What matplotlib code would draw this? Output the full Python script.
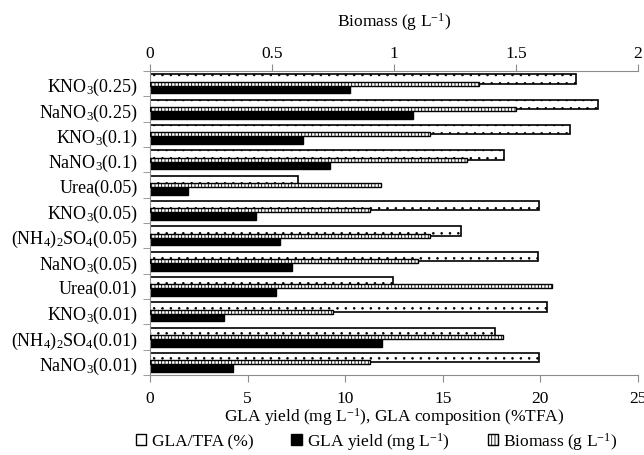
import numpy as np
import matplotlib
matplotlib.use('Agg')
import matplotlib.pyplot as plt
from matplotlib.patches import Patch

plt.rcParams['font.family'] = ['Liberation Serif', 'DejaVu Serif']
plt.rcParams['mathtext.fontset'] = 'custom'
plt.rcParams['mathtext.rm'] = 'Liberation Serif'
plt.rcParams['mathtext.it'] = 'Liberation Serif:italic'
plt.rcParams['hatch.linewidth'] = 0.6

# categories (top to bottom)
categories = ['KNO$_3$(0.25)', 'NaNO$_3$(0.25)', 'KNO$_3$(0.1)', 'NaNO$_3$(0.1)',
              'Urea(0.05)', 'KNO$_3$(0.05)', '(NH$_4$)$_2$SO$_4$(0.05)', 'NaNO$_3$(0.05)',
              'Urea(0.01)', 'KNO$_3$(0.01)', '(NH$_4$)$_2$SO$_4$(0.01)', 'NaNO$_3$(0.01)']
gla_tfa = [21.8, 22.93, 21.5, 18.15, 7.6, 19.95, 15.95, 19.86, 12.43, 20.34, 17.69, 19.95]
gla_yield = [10.25, 13.49, 7.84, 9.24, 1.95, 5.43, 6.68, 7.27, 6.45, 3.79, 11.89, 4.25]
biomass = [1.347, 1.499, 1.148, 1.298, 0.948, 0.90, 1.149, 1.098, 1.648, 0.749, 1.447, 0.90]

gray = '#8c8c8c'
fs = 12.5
y = np.arange(len(categories))
h = 0.375

fig = plt.figure(figsize=(6.44, 4.56), dpi=100)
ax = fig.add_axes([150/644, 1-376/456, 488/644, 304/456])

ax.barh(y - h/2, gla_tfa, height=h, color='white', edgecolor='black', linewidth=1.2, hatch='..')
ax.barh(y + h/2, gla_yield, height=h, color='black', edgecolor='black', linewidth=1.0)

ax.set_xlim(0, 25)
ax.set_ylim(len(categories) - 0.5, -0.5)
ax.set_xticks(np.arange(0, 26, 5))
ax.set_yticks(y)
ax.set_yticklabels(categories, fontsize=13)
ax.set_yticks(np.arange(-0.5, len(categories), 1), minor=True)
ax.tick_params(axis='y', which='major', length=0, pad=9)
ax.tick_params(axis='y', which='minor', length=5, color=gray, direction='out')
ax.tick_params(axis='x', labelsize=fs, length=5, color=gray, pad=6)
ax.set_xlabel('GLA yield (mg L$^{-1}$), GLA composition (%TFA)', fontsize=fs, labelpad=-1)
for s in ['right', 'top']:
    ax.spines[s].set_visible(False)
for s in ['left', 'bottom']:
    ax.spines[s].set_color(gray)

ax2 = ax.twiny()
ax2.barh(y, biomass, height=0.16, color='white', edgecolor='black', linewidth=1.0, hatch='|||||')
ax2.set_xlim(0, 2)
ax2.set_xticks([0, 0.5, 1, 1.5, 2])
ax2.set_xticklabels(['0', '0.5', '1', '1.5', '2'])
ax2.tick_params(axis='x', labelsize=fs, length=5, color=gray, pad=2)
ax2.set_xlabel('Biomass (g L$^{-1}$)', fontsize=fs, labelpad=14)
for s in ['right', 'bottom', 'left']:
    ax2.spines[s].set_visible(False)
ax2.spines['top'].set_color(gray)

handles = [Patch(facecolor='white', edgecolor='black', linewidth=1.0),
           Patch(facecolor='black', edgecolor='black'),
           Patch(facecolor='white', edgecolor='black', hatch='|||||', linewidth=1.0)]
labels = ['GLA/TFA (%)', 'GLA yield (mg L$^{-1}$)', 'Biomass (g L$^{-1}$)']
fig.legend(handles, labels, loc='center', bbox_to_anchor=(0.585, 1-442/456), ncol=3,
           frameon=False, fontsize=fs, handlelength=0.6, handleheight=0.6,
           handletextpad=0.3, columnspacing=2.2)

fig.savefig('out.png', dpi=100)
